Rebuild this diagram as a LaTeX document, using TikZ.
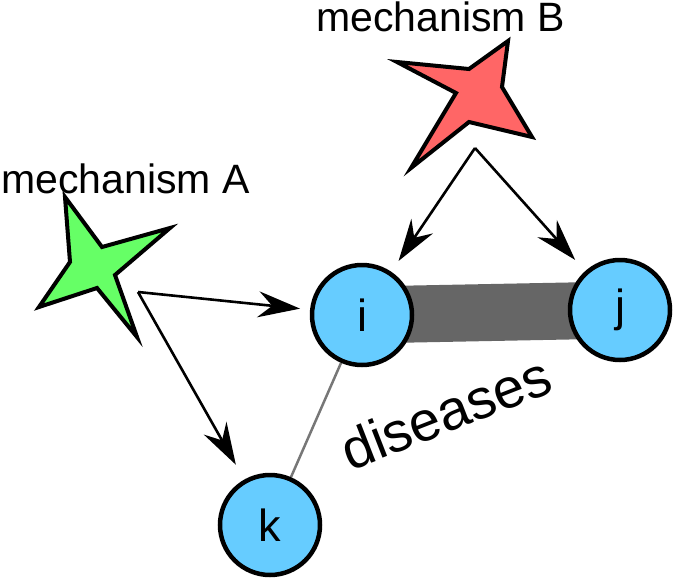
\documentclass[tikz,border=0pt]{standalone}
\usepackage{fontspec}
\setmainfont{Liberation Sans}
\usetikzlibrary{arrows.meta,backgrounds}
\definecolor{nodeblue}{HTML}{66CCFF}
\definecolor{stargreen}{HTML}{66FF66}
\definecolor{starred}{HTML}{FF6666}
\definecolor{bargray}{HTML}{666666}
\definecolor{linegray}{HTML}{777777}
\tikzset{
  dnode/.style={circle, draw=black, line width=4.5pt, fill=nodeblue, minimum size=100pt, inner sep=0pt, font=\fontsize{45}{45}\selectfont},
  arr/.style={line width=2.6pt, -{Stealth[length=42pt,width=26pt,inset=14pt]}},
  starshape/.style={draw=black, line width=4pt, line join=miter},
  lbl/.style={font=\fontsize{41}{41}\selectfont, inner sep=0pt}
}
\begin{document}
\begin{tikzpicture}[x=1pt,y=-1pt]
\useasboundingbox (0,0) rectangle (675,579);
% nodes
\node[dnode] (i) at (362,315) {i};
\node[dnode] (j) at (620,310) {j};
\node[dnode] (k) at (270,525) {k};
\begin{pgfonlayer}{background}
\draw[bargray, line width=57pt] (i.center) -- (j.center);
\draw[linegray, line width=2.5pt] (i) -- (k);
\end{pgfonlayer}
% stars
\draw[starshape, fill=stargreen] (65,197) -- (102,247) -- (170,228) -- (115,275) -- (137,337) -- (97,288) -- (39,307) -- (70,262) -- cycle;
\draw[starshape, fill=starred] (397,62) -- (469,69) -- (508,41) -- (502,87) -- (532,137) -- (469,122) -- (411,168) -- (456,93) -- cycle;
% arrow origins
\coordinate (ga) at (138,292);
\coordinate (rb) at (475,148);
\draw[arr, shorten >=10pt] (ga) -- (i);
\draw[arr, shorten >=17pt] (ga) -- (k);
\draw[arr, shorten >=13pt] (rb) -- (i);
\draw[arr, shorten >=15pt] (rb) -- (j);
% labels
\node[lbl, anchor=base west] (ma) at (1,193) {mechanism A};
\node[lbl, anchor=base west] (mb) at (316,31) {mechanism B};
\node[font=\fontsize{56}{56}\selectfont, inner sep=0pt, anchor=base, rotate=21.3] (dis) at (453,431) {diseases};
\end{tikzpicture}
\end{document}
